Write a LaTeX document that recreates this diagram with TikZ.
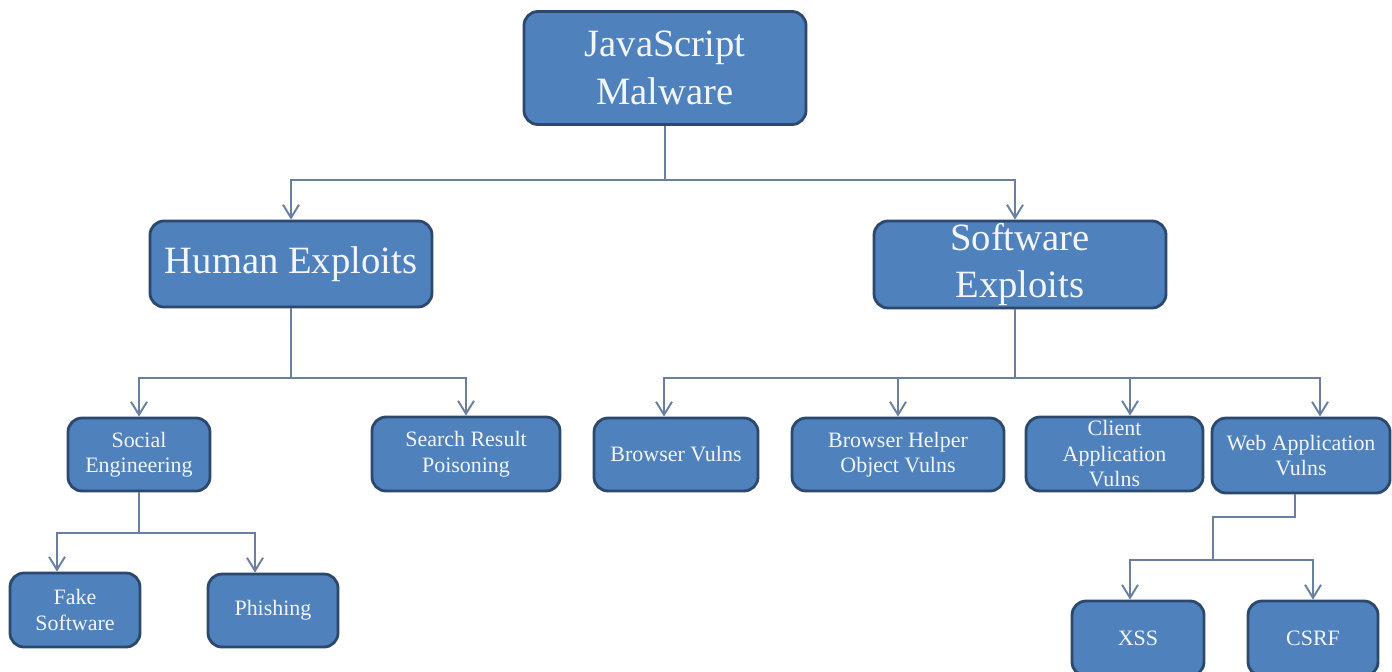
\documentclass[tikz,border=0pt]{standalone}
\usepackage{fontspec}
\setmainfont{Liberation Serif}
\usetikzlibrary{arrows.meta}
\definecolor{boxfill}{RGB}{79,129,189}
\definecolor{boxline}{RGB}{44,72,108}
\definecolor{linkcol}{RGB}{105,128,162}
\definecolor{txtcol}{RGB}{242,246,252}
\begin{document}
\begin{tikzpicture}[>={Straight Barb[length=2.6mm,width=3.2mm]},
  box/.style={draw=boxline, line width=1.6pt, fill=boxfill, rounded corners=0.28cm,
    text=txtcol, align=center, inner sep=0pt},
  bigbox/.style={box, font=\fontsize{22}{27}\selectfont},
  smallbox/.style={box, font=\fontsize{12.5}{14.5}\selectfont},
  arr/.style={->, draw=linkcol, line width=1.1pt}]
  \useasboundingbox (0,0) rectangle (27.84,-13.42);

  % Top levels
  \node[bigbox, minimum width=5.64cm, minimum height=2.26cm] (JS) at (13.30,-1.36) {JavaScript\\Malware};
  \node[bigbox, minimum width=5.64cm, minimum height=1.72cm] (Hum) at (5.82,-5.28) {Human Exploits};
  \node[bigbox, minimum width=5.84cm, minimum height=1.74cm] (Sw) at (20.40,-5.29) {Software\\Exploits};

  % Third level
  \node[smallbox, minimum width=2.84cm, minimum height=1.46cm] (Soc) at (2.78,-9.09) {Social\\Engineering};
  \node[smallbox, minimum width=3.76cm, minimum height=1.48cm] (Srp) at (9.32,-9.08) {Search Result\\Poisoning};
  \node[smallbox, minimum width=3.28cm, minimum height=1.46cm] (Bv) at (13.52,-9.09) {Browser Vulns};
  \node[smallbox, minimum width=4.24cm, minimum height=1.46cm] (Bho) at (17.96,-9.09) {Browser Helper\\Object Vulns};
  \node[smallbox, minimum width=3.54cm, minimum height=1.48cm] (Cli) at (22.29,-9.08) {Client\\Application\\Vulns};
  \node[smallbox, minimum width=3.56cm, minimum height=1.50cm] (Web) at (26.02,-9.11) {Web Application\\Vulns};

  % Leaves
  \node[smallbox, minimum width=2.60cm, minimum height=1.48cm] (Fake) at (1.50,-12.20) {Fake\\Software};
  \node[smallbox, minimum width=2.60cm, minimum height=1.46cm] (Phi) at (5.46,-12.21) {Phishing};
  \node[smallbox, minimum width=2.64cm, minimum height=1.50cm] (Xss) at (22.76,-12.77) {XSS};
  \node[smallbox, minimum width=2.60cm, minimum height=1.50cm] (Csrf) at (26.26,-12.77) {CSRF};

  % Links from the root
  \draw[arr] (JS.south) -- ++(0,-1.08) -| (Hum.north);
  \draw[arr] (JS.south) -- ++(0,-1.08) -| ([xshift=-0.1cm]Sw.north);

  % Links from human exploits
  \draw[arr] (Hum.south) -- ++(0,-1.40) -| (Soc.north);
  \draw[arr] (Hum.south) -- ++(0,-1.40) -| (Srp.north);

  % Links from software exploits
  \draw[arr] ([xshift=-0.1cm]Sw.south) -- ++(0,-1.38) -| ([xshift=-0.24cm]Bv.north);
  \draw[arr] ([xshift=-0.1cm]Sw.south) -- ++(0,-1.38) -| (Bho.north);
  \draw[arr] ([xshift=-0.1cm]Sw.south) -- ++(0,-1.38) -| ([xshift=0.31cm]Cli.north);
  \draw[arr] ([xshift=-0.1cm]Sw.south) -- ++(0,-1.38) -| ([xshift=0.38cm]Web.north);

  % Links to the leaves
  \draw[arr] (Soc.south) -- ++(0,-0.82) -| ([xshift=-0.36cm]Fake.north);
  \draw[arr] (Soc.south) -- ++(0,-0.82) -| ([xshift=-0.36cm]Phi.north);
  \coordinate (wsplit) at (24.26,-11.20);
  \draw[arr] ([xshift=-0.12cm]Web.south) |- (24.26,-10.34) -- (wsplit) -| ([xshift=-0.16cm]Xss.north);
  \draw[arr] ([xshift=-0.12cm]Web.south) |- (24.26,-10.34) -- (wsplit) -| (Csrf.north);
\end{tikzpicture}
\end{document}
